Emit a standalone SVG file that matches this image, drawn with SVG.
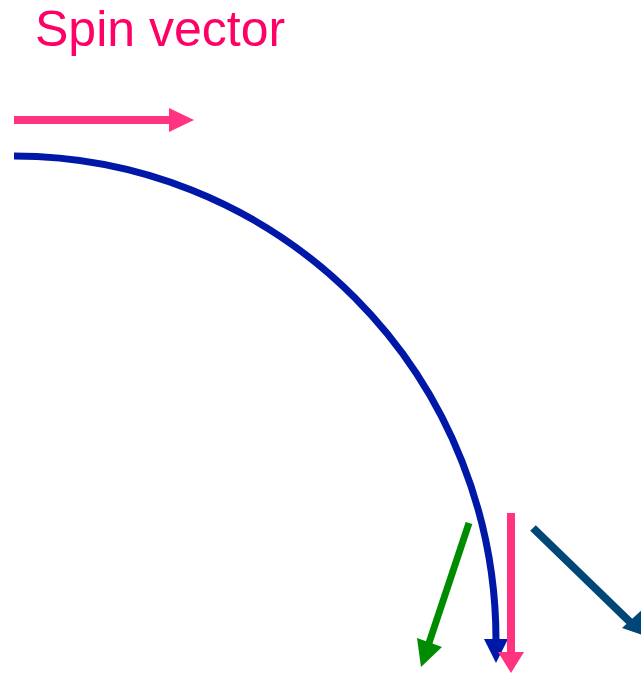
<svg xmlns="http://www.w3.org/2000/svg" width="641" height="673" viewBox="0 0 641 673">
<style>
.lbl{font-family:"Liberation Sans",Arial,sans-serif;font-size:50px;fill:#FF0066}
.pink{stroke:#FF3380;fill:none;stroke-width:8}
.pinkh{fill:#FF3380}
.blue{stroke:#0018A8;fill:none;stroke-width:7}
.blueh{fill:#0018A8}
.green{stroke:#008C00;stroke-width:7;fill:none}
.greenh{fill:#008C00}
.navy{stroke:#004777;stroke-width:8;fill:none}
.navyh{fill:#004777}
</style>
<rect width="641" height="673" fill="#fff"/>
<g id="title"><text class="lbl" x="35" y="46">Spin vector</text></g>
<g id="connectors">
<g id="spin-top"><line class="pink" x1="14" y1="120" x2="172" y2="120"/><polygon class="pinkh" points="169,108 194,120 169,132"/></g>
<g id="path-curve"><path class="blue" d="M14,156 A482,484 0 0 1 496,640"/><polygon class="blueh" points="484,639 508,639 496,663"/></g>
<g id="green-arrow"><line class="green" x1="469" y1="523" x2="428" y2="646"/><polygon class="greenh" points="417,638 442,647 421,667"/></g>
<g id="pink-down"><line class="pink" x1="511" y1="513" x2="511" y2="655"/><polygon class="pinkh" points="498,652 524,652 511,673"/></g>
<g id="navy-arrow"><line class="navy" x1="533" y1="528" x2="630" y2="622"/><polygon class="navyh" points="622,628 645,607 645,636"/></g>
</g>
</svg>
